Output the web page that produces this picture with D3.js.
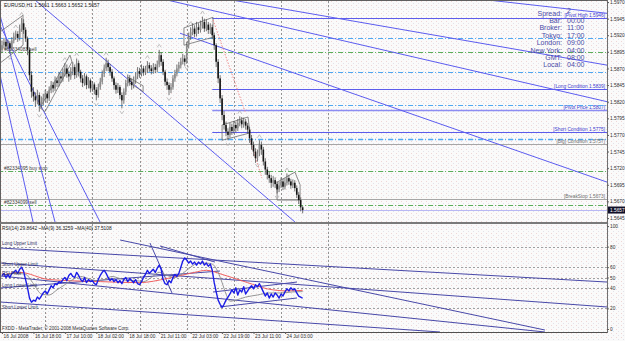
<!DOCTYPE html>
<html>
<head>
<meta charset="utf-8">
<script src="https://cdnjs.cloudflare.com/ajax/libs/d3/7.8.5/d3.min.js"></script>
<style>
  body { margin: 0; background: #fbfafa; }
  svg { display: block; }
  text { font-family: "Liberation Sans", Arial, sans-serif; }
</style>
</head>
<body>
<script>
'use strict';

// ---- bar data (EURUSD H1), open of each bar = previous close
const firstOpen = 1.5898;
const closes = [
  1.5905,1.5910,1.5903,1.5908,1.5900,1.5912,1.5918,1.5922,1.5916,1.5930,
  1.5938,1.5928,1.5915,1.5898,1.5860,1.5835,1.5828,1.5822,1.5830,1.5815,
  1.5820,1.5826,1.5832,1.5825,1.5838,1.5845,1.5840,1.5852,1.5848,1.5858,
  1.5855,1.5864,1.5870,1.5862,1.5858,1.5866,1.5872,1.5860,1.5878,1.5865,
  1.5855,1.5848,1.5858,1.5845,1.5852,1.5840,1.5846,1.5838,1.5830,1.5842,
  1.5850,1.5862,1.5870,1.5878,1.5872,1.5865,1.5855,1.5845,1.5838,1.5842,
  1.5830,1.5822,1.5835,1.5848,1.5855,1.5850,1.5845,1.5852,1.5858,1.5866,
  1.5862,1.5870,1.5864,1.5868,1.5875,1.5870,1.5866,1.5872,1.5868,1.5876,
  1.5890,1.5880,1.5865,1.5850,1.5845,1.5838,1.5842,1.5855,1.5862,1.5870,
  1.5875,1.5880,1.5885,1.5880,1.5905,1.5918,1.5925,1.5930,1.5922,1.5932,
  1.5928,1.5935,1.5940,1.5930,1.5936,1.5928,1.5932,1.5920,1.5905,1.5880,
  1.5855,1.5825,1.5800,1.5785,1.5775,1.5770,1.5782,1.5776,1.5785,1.5780,
  1.5788,1.5792,1.5786,1.5790,1.5784,1.5778,1.5765,1.5755,1.5745,1.5735,
  1.5742,1.5755,1.5748,1.5730,1.5718,1.5710,1.5705,1.5698,1.5702,1.5696,
  1.5688,1.5694,1.5700,1.5692,1.5698,1.5705,1.5700,1.5694,1.5698,1.5690,
  1.5680,1.5672,1.5661,1.5657];
const highs = [
  1.5912,1.5916,1.5914,1.5913,1.5911,1.5917,1.5924,1.5927,1.5926,1.5936,
  1.5946,1.5944,1.5932,1.5918,1.5902,1.5866,1.5842,1.5834,1.5838,1.5834,
  1.5828,1.5832,1.5838,1.5836,1.5843,1.5851,1.5850,1.5858,1.5856,1.5864,
  1.5863,1.5870,1.5878,1.5876,1.5867,1.5872,1.5880,1.5876,1.5885,1.5882,
  1.5868,1.5860,1.5863,1.5861,1.5857,1.5855,1.5851,1.5849,1.5842,1.5847,
  1.5856,1.5867,1.5876,1.5886,1.5883,1.5877,1.5869,1.5858,1.5849,1.5848,
  1.5845,1.5834,1.5840,1.5853,1.5861,1.5860,1.5855,1.5858,1.5864,1.5872,
  1.5871,1.5876,1.5874,1.5874,1.5881,1.5879,1.5875,1.5878,1.5877,1.5882,
  1.5898,1.5894,1.5884,1.5868,1.5855,1.5849,1.5848,1.5860,1.5868,1.5876,
  1.5880,1.5886,1.5892,1.5890,1.5910,1.5924,1.5932,1.5938,1.5935,1.5940,
  1.5938,1.5942,1.5948,1.5945,1.5944,1.5940,1.5938,1.5936,1.5924,1.5908,
  1.5884,1.5860,1.5830,1.5806,1.5790,1.5780,1.5788,1.5787,1.5791,1.5790,
  1.5794,1.5798,1.5797,1.5796,1.5794,1.5788,1.5782,1.5770,1.5760,1.5750,
  1.5748,1.5762,1.5760,1.5752,1.5735,1.5722,1.5715,1.5710,1.5708,1.5706,
  1.5700,1.5700,1.5706,1.5704,1.5705,1.5712,1.5710,1.5704,1.5703,1.5702,
  1.5694,1.5684,1.5676,1.5663];
const lows = [
  1.5894,1.5900,1.5897,1.5899,1.5892,1.5897,1.5908,1.5913,1.5910,1.5912,
  1.5925,1.5922,1.5910,1.5890,1.5852,1.5826,1.5820,1.5812,1.5816,1.5805,
  1.5810,1.5814,1.5820,1.5818,1.5821,1.5833,1.5834,1.5836,1.5842,1.5843,
  1.5848,1.5850,1.5858,1.5856,1.5850,1.5853,1.5860,1.5854,1.5856,1.5858,
  1.5849,1.5842,1.5844,1.5839,1.5840,1.5834,1.5835,1.5831,1.5822,1.5826,
  1.5838,1.5846,1.5857,1.5866,1.5866,1.5859,1.5850,1.5838,1.5832,1.5833,
  1.5824,1.5810,1.5817,1.5830,1.5843,1.5844,1.5838,1.5840,1.5847,1.5854,
  1.5856,1.5858,1.5859,1.5860,1.5863,1.5865,1.5861,1.5862,1.5863,1.5864,
  1.5872,1.5874,1.5860,1.5844,1.5838,1.5830,1.5833,1.5838,1.5850,1.5858,
  1.5865,1.5870,1.5876,1.5874,1.5877,1.5900,1.5913,1.5920,1.5917,1.5918,
  1.5922,1.5924,1.5930,1.5925,1.5926,1.5922,1.5922,1.5914,1.5898,1.5872,
  1.5848,1.5818,1.5792,1.5778,1.5768,1.5762,1.5766,1.5770,1.5772,1.5774,
  1.5776,1.5783,1.5780,1.5781,1.5778,1.5772,1.5758,1.5748,1.5738,1.5728,
  1.5730,1.5738,1.5740,1.5724,1.5710,1.5703,1.5698,1.5690,1.5692,1.5690,
  1.5682,1.5684,1.5690,1.5687,1.5688,1.5694,1.5695,1.5689,1.5690,1.5685,
  1.5675,1.5666,1.5655,1.5652];

// RSI(14) and its two moving averages (MA values read at selected bars)
const rsi = [
  52,54,50,53,50,54,55,57,54,58,
  60,56,48,40,30,26,28,27,31,29,
  32,35,37,34,38,42,40,44,43,46,
  45,48,50,47,52,54,51,50,55,52,
  48,46,50,45,48,46,47,44,43,48,
  52,55,57,54,50,47,49,46,48,45,
  47,44,48,50,46,49,47,45,48,44,
  43,46,50,53,57,54,56,58,55,59,
  62,58,48,44,43,47,45,50,53,51,
  54,60,66,69,67,64,66,63,65,62,
  65,63,66,62,64,61,63,57,45,36,
  28,24,21,24,28,31,34,38,35,40,
  33,38,36,41,34,37,40,42,39,43,
  41,44,40,36,32,35,30,34,31,35,
  33,30,34,32,36,39,37,40,38,39,
  35,32,31,29.86];
const ma9Bars   = [0,8,12,16,20,24,28,32,36,40,44,48,52,56,60,64,68,72,76,80,84,88,92,96,100,104,107,110,112,114,116,119,124,130,136,142,148,153];
const ma9Values = [52,54,53,44,34,33,38,43,48,51,49,47,48,51,49,47,47,46,50,55,52,50,54,60,64,64,63,55,45,34,27,28,31,33,35,35,36,36.33];
const ma40Bars   = [0,9,24,50,70,84,98,104,112,125,135,145,153];
const ma40Values = [52,55,48,46,45,49,55,57,53,45,39,37,37.51];

// axes
const priceTicks = [1.5645,1.5670,1.5695,1.5720,1.5745,1.5770,1.5795,1.5820,1.5845,1.5870,1.5895,1.5920,1.5945,1.5970];
const rsiTicks = [0,20,40,50,60,80,100];
const rsiGrid = [20,40,50,60,80];
const timeBars = [0,16,32,48,64,80,96,112,128,144];
const timeLabels = ["16 Jul 2008","16 Jul 18:00","17 Jul 10:00","18 Jul 02:00","18 Jul 18:00",
                    "21 Jul 11:00","22 Jul 03:00","22 Jul 19:00","23 Jul 11:00","24 Jul 03:00"];
const gridBars = [22,46,70,94,118,142,166];

// horizontal objects on the price chart
const levelPrices = [1.5946,1.5839,1.5807,1.5775,1.5916,1.5895,1.5865,1.5815,1.5764,1.5757,1.5716,1.5673,1.5665,1.5657];
const levelKinds  = ['pivot','pivot','pivotMid','pivot','dashBlue','dashGreen','dashBlue','dashBlue','dashBlueThick','gray','dashGreen','gray','dashGreen','bid'];
const levelFrom   = [107,107,107,107,-2,-2,-2,-2,-2,-2,-2,-2,-2,-2];
const levelLabels = ['[Pivot High 1.5946]','[Long Condition 1.5839]','[Pivot Price 1.5807]','[Short Condition 1.5775]',
                     '','','','','','[Big] Condition 1.5757]','','[BreakStop 1.5673]','',''];
const orderPrices = [1.5895,1.5716,1.5665];
const orderLabels = ['#82334083 sell','#82334095 buy stop','#82334099 sell'];

// trend lines: [bar, bar] and [price, price]
const trendBars   = [[-1.0,27.0],[-1.0,15.8],[-7.6,49.9],[16.8,149.1],[84.0,307.9],[117.0,307.9],[247.3,307.9],[90.6,307.9]];
const trendPrices = [[1.5950,1.5639],[1.5860,1.5639],[1.5973,1.5639],[1.5973,1.5639],[1.5973,1.5820],[1.5973,1.5875],[1.5973,1.5953],[1.5923,1.5699]];

// gray pattern outlines (bar, price pairs)
const patternShapes = [
  [[-1,1.5925],[10.7,1.5950],[10.7,1.5905],[-1,1.5878],[-1,1.5925]],
  [[19.3,1.5811],[34.6,1.5890],[35.6,1.5880],[21.9,1.5805],[19.3,1.5811]],
  [[64.1,1.5857],[71.8,1.5844],[71.8,1.5835],[64.1,1.5850],[64.1,1.5857]],
  [[92.6,1.5931],[107.4,1.5947],[107.4,1.5917],[92.6,1.5905],[92.6,1.5931]],
  [[112,1.5785],[125.2,1.5797],[126.2,1.5773],[112,1.5762],[112,1.5785]],
  [[140,1.5699],[149.1,1.5714],[151.7,1.5695],[151.7,1.5672],[140,1.5672],[140,1.5699]]
];
const redBars   = [[107.4,123.7],[126.2,132.3]];
const redPrices = [[1.5943,1.5805],[1.5762,1.5705]];

// fractal arrows
const upFractals   = [7,10,32,38,53,74,80,96,102,121,131,145];
const downFractals = [4,19,48,61,85,94,115,130,140];

// lines in the RSI window: [bar, bar] and [rsi, rsi]
const rsiLineBars = [[-1,307.9],[-1,307.9],[-1,222.9],[-1,276.3],[60.1,276.3],[-1,110.9],[75.3,86.5],[80.4,108.4],[107.4,150.1],[110.9,150.1]];
const rsiLineVals = [[78.6,45.6],[64.1,21.4],[26.2,-2.9],[51.5,-2.9],[86.4,-1.0],[39.8,56.3],[83.5,35.0],[80.6,65.0],[35.9,45.6],[21.4,30.1]];
const rsiLabels = ['Long Upper Limit','Short Upper Limit','RSI Pivot','Long Lower Limit','Short Lower Limit'];
const rsiLabelVals = [82,61.5,52,40.3,19];

const infoNames  = ['Spread:','Bar:','Broker:','Tokyo:','London:','New York:','GMT:','Local:'];
const infoValues = ['2','00:00','11:00','17:00','09:00','04:00','08:00','04:00'];

(function() {
  const W = 625, H = 341;
  const right = 607;     // right edge of the plot area

  const svg = d3.select('body').append('svg')
    .attr('width', W)
    .attr('height', H);

  // speckled background like the terminal
  let defs = svg.append('defs');
  let pat = defs.append('pattern').attr('id', 'speck')
    .attr('width', 5).attr('height', 4).attr('patternUnits', 'userSpaceOnUse');
  pat.append('rect').attr('width', 5).attr('height', 4).attr('fill', '#fafafa');
  pat.append('rect').attr('x', 1).attr('y', 1).attr('width', 1).attr('height', 1).attr('fill', '#efd6d6');
  pat.append('rect').attr('x', 3).attr('y', 3).attr('width', 1).attr('height', 1).attr('fill', '#e2e2ea');
  defs.append('clipPath').attr('id', 'clipMain')
    .append('rect').attr('x', 1).attr('y', 1).attr('width', right - 1).attr('height', 221);
  defs.append('clipPath').attr('id', 'clipRsi')
    .append('rect').attr('x', 1).attr('y', 224).attr('width', right - 1).attr('height', 108);

  svg.append('rect').attr('width', W).attr('height', H).attr('fill', 'url(#speck)');

  // scales
  let x = d3.scaleLinear().domain([0, 100]).range([2, 198.5]);
  let yP = d3.scaleLinear().domain([1.5973, 1.5639]).range([0, 222]);
  let yR = d3.scaleLinear().domain([0, 100]).range([329, 226]);

  let main = svg.append('g').attr('clip-path', 'url(#clipMain)');
  let sub = svg.append('g').attr('clip-path', 'url(#clipRsi)');

  // vertical grid (both windows)
  [[main, 1, 222], [sub, 224, 332]].forEach(function(p) {
    p[0].selectAll('.vgrid').data(gridBars).enter().append('line')
      .attr('x1', (d) => Math.round(x(d)) + 0.5).attr('x2', (d) => Math.round(x(d)) + 0.5)
      .attr('y1', p[1]).attr('y2', p[2])
      .attr('stroke', '#7a7a7a').attr('stroke-width', 0.8).attr('stroke-dasharray', '2,2');
  });

  // horizontal objects
  let levelStyle = {
    pivot:        {c: '#5c5cec', w: 1,   d: null},
    pivotMid:     {c: '#8c8cf2', w: 1.6, d: null},
    dashBlue:     {c: '#4ea8f2', w: 1,   d: '5,2,1,2'},
    dashBlueThick:{c: '#4ea8f2', w: 1.6, d: '5,2,1,2'},
    dashGreen:    {c: '#5aae5a', w: 1,   d: '5,2,1,2'},
    gray:         {c: '#a6a6a6', w: 1.2, d: null},
    bid:          {c: '#b8b8f4', w: 1,   d: null}
  };
  levelPrices.forEach(function(p, i) {
    let s = levelStyle[levelKinds[i]];
    main.append('line')
      .attr('x1', x(levelFrom[i])).attr('x2', right)
      .attr('y1', Math.round(yP(p)) + 0.5).attr('y2', Math.round(yP(p)) + 0.5)
      .attr('stroke', s.c).attr('stroke-width', s.w)
      .attr('stroke-dasharray', s.d);
    if (levelLabels[i]) {
      main.append('text')
        .attr('x', 605).attr('y', Math.round(yP(p)) - 1.5)
        .attr('text-anchor', 'end')
        .style('font-size', '4.8px')
        .attr('fill', levelKinds[i] == 'gray' ? '#707070' : '#3a3ad0')
        .text(levelLabels[i]);
    }
  });

  // order labels at the left
  orderPrices.forEach(function(p, i) {
    main.append('text')
      .attr('x', 4).attr('y', Math.round(yP(p)) - 1)
      .style('font-size', '4.8px').attr('fill', '#404040')
      .text(orderLabels[i]);
  });

  // trend lines
  trendBars.forEach(function(b, i) {
    main.append('line')
      .attr('x1', x(b[0])).attr('x2', x(b[1]))
      .attr('y1', yP(trendPrices[i][0])).attr('y2', yP(trendPrices[i][1]))
      .attr('stroke', '#5c5cf0').attr('stroke-width', 1);
  });

  // gray pattern shapes
  let pline = d3.line().x((d) => x(d[0])).y((d) => yP(d[1]));
  main.selectAll('.pattern').data(patternShapes).enter().append('path')
    .attr('d', pline)
    .attr('fill', 'none').attr('stroke', '#6e6e6e').attr('stroke-width', 0.8);

  // red dotted projections
  redBars.forEach(function(b, i) {
    main.append('line')
      .attr('x1', x(b[0])).attr('x2', x(b[1]))
      .attr('y1', yP(redPrices[i][0])).attr('y2', yP(redPrices[i][1]))
      .attr('stroke', '#f08a8a').attr('stroke-width', 1).attr('stroke-dasharray', '1.5,1.5');
  });

  // fractal arrows
  main.selectAll('.fup').data(upFractals).enter().append('path')
    .attr('d', (d) => { let cx = x(d), cy = yP(highs[d]) - 4;
      return 'M' + (cx - 2) + ',' + (cy + 1.5) + 'L' + cx + ',' + (cy - 1.5) + 'L' + (cx + 2) + ',' + (cy + 1.5); })
    .attr('fill', 'none').attr('stroke', '#b4b4b4').attr('stroke-width', 0.8);
  main.selectAll('.fdn').data(downFractals).enter().append('path')
    .attr('d', (d) => { let cx = x(d), cy = yP(lows[d]) + 4;
      return 'M' + (cx - 2) + ',' + (cy - 1.5) + 'L' + cx + ',' + (cy + 1.5) + 'L' + (cx + 2) + ',' + (cy - 1.5); })
    .attr('fill', 'none').attr('stroke', '#b4b4b4').attr('stroke-width', 0.8);

  // candles
  let bars = closes.map((c, i) => ({
    i: i, o: i == 0 ? firstOpen : closes[i - 1], h: highs[i], l: lows[i], c: c
  }));
  main.selectAll('.wick').data(bars).enter().append('line')
    .attr('x1', (d) => x(d.i)).attr('x2', (d) => x(d.i))
    .attr('y1', (d) => yP(d.h)).attr('y2', (d) => yP(d.l))
    .attr('stroke', '#505050').attr('stroke-width', 0.8);
  main.selectAll('.body').data(bars).enter().append('rect')
    .attr('x', (d) => x(d.i) - 0.8).attr('width', 1.6)
    .attr('y', (d) => yP(Math.max(d.o, d.c)))
    .attr('height', (d) => Math.max(1, yP(Math.min(d.o, d.c)) - yP(Math.max(d.o, d.c))))
    .attr('fill', (d) => d.c >= d.o ? '#8c8c8c' : '#151515');

  // ---- RSI window
  sub.selectAll('.rgrid').data(rsiGrid).enter().append('line')
    .attr('x1', 1).attr('x2', right)
    .attr('y1', (d) => Math.round(yR(d)) + 0.5).attr('y2', (d) => Math.round(yR(d)) + 0.5)
    .attr('stroke', '#8a8a8a').attr('stroke-width', 0.8).attr('stroke-dasharray', '2,2');

  rsiLineBars.forEach(function(b, i) {
    sub.append('line')
      .attr('x1', x(b[0])).attr('x2', x(b[1]))
      .attr('y1', yR(rsiLineVals[i][0])).attr('y2', yR(rsiLineVals[i][1]))
      .attr('stroke', '#4848a8').attr('stroke-width', 1);
  });

  let ma40 = ma40Bars.map((b, i) => [b, ma40Values[i]]);
  let ma9 = ma9Bars.map((b, i) => [b, ma9Values[i]]);
  let rline = d3.line().x((d) => x(d[0])).y((d) => yR(d[1]));
  sub.append('path').datum(ma40).attr('d', rline.curve(d3.curveMonotoneX))
    .attr('fill', 'none').attr('stroke', '#f06060').attr('stroke-width', 1);
  sub.append('path').datum(ma9).attr('d', rline.curve(d3.curveMonotoneX))
    .attr('fill', 'none').attr('stroke', '#8a8a8a').attr('stroke-width', 0.9);
  sub.append('path').datum(rsi.map((v, i) => [i, v])).attr('d', rline.curve(d3.curveLinear))
    .attr('fill', 'none').attr('stroke', '#1c1ce6').attr('stroke-width', 1.4)
    .attr('stroke-linejoin', 'round');

  rsiLabels.forEach(function(t, i) {
    svg.append('text')
      .attr('x', 2).attr('y', yR(rsiLabelVals[i]))
      .style('font-size', '4.6px').attr('fill', '#303060')
      .text(t);
  });
  svg.append('text').attr('x', 2).attr('y', 230)
    .style('font-size', '4.8px').attr('fill', '#202020')
    .text('RSI(14) 29.8642    ~MA(9) 36.3259    ~MA(40) 37.5108');
  svg.append('text').attr('x', 2).attr('y', 330)
    .style('font-size', '4.6px').attr('fill', '#303030')
    .text('FXDD - MetaTrader, \u00a9 2001-2008 MetaQuotes Software Corp.');

  // ---- frames
  let frame = svg.append('g').attr('fill', 'none');
  frame.append('line').attr('x1', 0).attr('x2', right).attr('y1', 0.5).attr('y2', 0.5).attr('stroke', '#606060');
  frame.append('line').attr('x1', 0.5).attr('x2', 0.5).attr('y1', 0).attr('y2', 332).attr('stroke', '#606060');
  frame.append('line').attr('x1', right + 0.5).attr('x2', right + 0.5).attr('y1', 0).attr('y2', 333).attr('stroke', '#707070');
  frame.append('line').attr('x1', 0).attr('x2', right).attr('y1', 223).attr('y2', 223).attr('stroke', '#7a7a7a').attr('stroke-width', 2);
  frame.append('line').attr('x1', 0).attr('x2', right).attr('y1', 332.5).attr('y2', 332.5).attr('stroke', '#505050');

  // ---- axes
  let priceAxis = d3.axisRight(yP).tickValues(priceTicks).tickSize(2).tickPadding(1)
    .tickFormat(d3.format('.4f'));
  let pa = svg.append('g').attr('transform', 'translate(' + right + ',0)').call(priceAxis);
  let rsiAxis = d3.axisRight(yR).tickValues(rsiTicks).tickSize(2).tickPadding(1);
  let ra = svg.append('g').attr('transform', 'translate(' + right + ',0)').call(rsiAxis);
  let timeAxis = d3.axisBottom(x).tickValues(timeBars).tickSize(2).tickPadding(0)
    .tickFormat((d, i) => timeLabels[i]);
  let ta = svg.append('g').attr('transform', 'translate(0,332)').call(timeAxis);
  [pa, ra, ta].forEach(function(g) {
    g.select('.domain').remove();
    g.selectAll('line').attr('stroke', '#606060');
    g.selectAll('text').style('font-size', '4.8px')
      .style('font-family', '"Liberation Sans", Arial, sans-serif').attr('fill', '#303030');
  });
  ta.selectAll('text').attr('text-anchor', 'start').attr('dx', 1).attr('dy', '0.9em');

  // current price marker
  svg.append('rect').attr('x', right + 1).attr('y', yP(1.5657) - 3.5).attr('width', 17).attr('height', 7)
    .attr('fill', '#101028');
  svg.append('text').attr('x', right + 3).attr('y', yP(1.5657) + 1.7)
    .style('font-size', '4.8px').attr('fill', '#ffffff').text('1.5657');

  // title
  svg.append('text').attr('x', 4).attr('y', 7)
    .style('font-size', '5px').attr('fill', '#202020')
    .text('EURUSD,H1  1.5661  1.5663  1.5652  1.5657');

  // session info block (spread value sits a little higher, as in the terminal)
  let info = svg.append('g').style('font-size', '7px').attr('fill', '#4a4aa8');
  infoNames.forEach(function(n, i) {
    let yy = 15.5 + i * 7.4;
    info.append('text').attr('x', 562).attr('y', yy).attr('text-anchor', 'end').text(n);
    info.append('text').attr('x', 567).attr('y', i == 0 ? 12.5 : yy).text(infoValues[i]);
  });
})();
</script>
</body>
</html>
